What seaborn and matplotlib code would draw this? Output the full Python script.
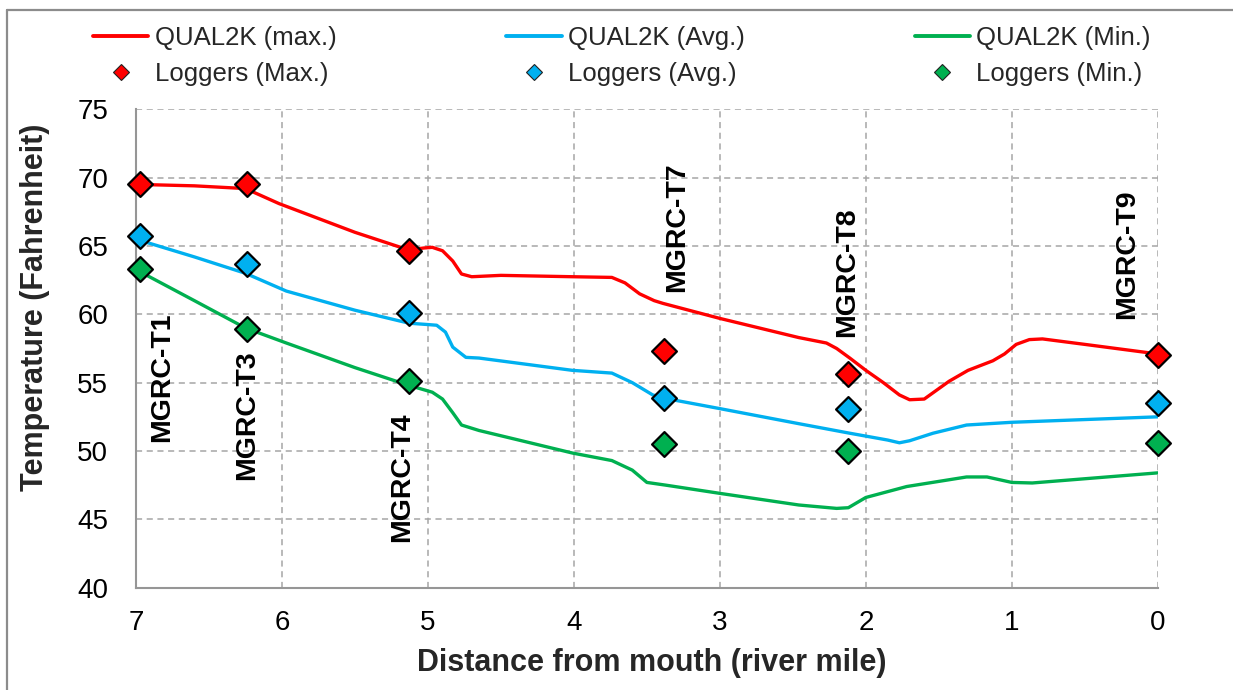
import matplotlib
matplotlib.use("Agg")
import matplotlib.pyplot as plt
from matplotlib.lines import Line2D
from matplotlib.ticker import MultipleLocator
import seaborn as sns

# QUAL2K simulated temperature profiles (river mile, deg F)
q_max_mile = [6.97, 6.60, 6.25, 6.02, 5.50, 5.13, 5.03, 4.97, 4.90, 4.83, 4.77, 4.70, 4.50,
              4.01, 3.74, 3.65, 3.55, 3.45, 3.39, 3.00, 2.46, 2.27, 2.20, 2.11, 2.00, 1.88,
              1.77, 1.70, 1.60, 1.43, 1.30, 1.13, 1.05, 0.97, 0.88, 0.79, 0.50, 0.00]
q_max_temp = [69.5, 69.4, 69.2, 68.1, 66.0, 64.7, 64.85, 64.9, 64.65, 63.9, 62.95, 62.75, 62.85,
              62.75, 62.7, 62.3, 61.5, 61.0, 60.8, 59.7, 58.3, 57.9, 57.5, 56.8, 55.9, 55.0,
              54.1, 53.75, 53.8, 55.1, 55.9, 56.6, 57.1, 57.8, 58.15, 58.2, 57.8, 57.1]

q_avg_mile = [6.97, 6.60, 6.25, 5.97, 5.50, 5.13, 5.00, 4.94, 4.88, 4.83, 4.74, 4.65, 4.01,
              3.74, 3.60, 3.46, 3.30, 3.00, 2.46, 2.11, 1.85, 1.77, 1.70, 1.54, 1.31, 1.00, 0.00]
q_avg_temp = [65.4, 64.2, 63.0, 61.7, 60.3, 59.35, 59.25, 59.2, 58.7, 57.6, 56.85, 56.8, 55.9,
              55.7, 55.0, 54.1, 53.7, 53.1, 52.0, 51.3, 50.8, 50.6, 50.75, 51.3, 51.9, 52.1, 52.5]

q_min_mile = [6.97, 6.60, 6.25, 5.97, 5.50, 5.13, 4.97, 4.90, 4.83, 4.77, 4.65, 4.30, 4.01,
              3.74, 3.60, 3.50, 3.37, 3.00, 2.46, 2.20, 2.12, 2.00, 1.72, 1.31, 1.17, 1.00,
              0.86, 0.00]
q_min_temp = [63.1, 61.0, 59.0, 57.9, 56.1, 54.8, 54.3, 53.8, 52.8, 51.9, 51.5, 50.6, 49.85,
              49.3, 48.6, 47.7, 47.5, 46.9, 46.05, 45.8, 45.85, 46.6, 47.4, 48.1, 48.1, 47.7,
              47.66, 48.4]

# Logger observations at monitoring stations
stations = ["MGRC-T1", "MGRC-T3", "MGRC-T4", "MGRC-T7", "MGRC-T8", "MGRC-T9"]
station_mile = [6.97, 6.24, 5.13, 3.38, 2.12, 0.0]
logger_max = [69.5, 69.5, 64.65, 57.35, 55.6, 57.0]
logger_avg = [65.7, 63.7, 60.1, 53.85, 53.1, 53.5]
logger_min = [63.3, 58.95, 55.1, 50.5, 50.0, 50.55]

# Anchor points for the station name labels (mile, deg F)
label_mile = [6.82, 6.24, 5.18, 3.29, 2.13, 0.21]
label_temp = [55.4, 52.6, 48.1, 66.4, 63.05, 64.4]

legend_labels = ["QUAL2K (max.)", "Loggers (Max.)", "QUAL2K (Avg.)",
                 "Loggers (Avg.)", "QUAL2K (Min.)", "Loggers (Min.)"]

RED, BLUE, GREEN = "#FF0000", "#00B0F0", "#00B050"
GRID = "#a6a6a6"
SPINE = "#969696"

sns.set_style("white")
plt.rcParams["font.family"] = ["Liberation Sans", "DejaVu Sans"]

fig = plt.figure(figsize=(12.33, 6.90), dpi=100)
ax = fig.add_axes([0.1103, 0.1483, 0.8287, 0.6933])

for miles, temps, col in [(q_max_mile, q_max_temp, RED),
                          (q_avg_mile, q_avg_temp, BLUE),
                          (q_min_mile, q_min_temp, GREEN)]:
    sns.lineplot(x=miles, y=temps, color=col, linewidth=2.4, estimator=None,
                 ax=ax, zorder=3)

for vals, col in [(logger_max, RED), (logger_avg, BLUE), (logger_min, GREEN)]:
    sns.scatterplot(x=station_mile, y=vals, marker="D", s=160, color=col,
                    edgecolor="black", linewidth=1.6, ax=ax, zorder=5, clip_on=False)

for name, m, t in zip(stations, label_mile, label_temp):
    ax.text(m, t, name, rotation=90, ha="center", va="center",
            fontsize=20.5, fontweight="bold", color="black", zorder=6)

ax.set_xlim(7, 0)
ax.set_ylim(40, 75)
ax.xaxis.set_major_locator(MultipleLocator(1))
ax.xaxis.set_minor_locator(MultipleLocator(0.25))
ax.yaxis.set_major_locator(MultipleLocator(5))
ax.yaxis.set_minor_locator(MultipleLocator(1))

ax.grid(True, which="major", color=GRID, linestyle=(0, (4, 3)), linewidth=1.1, zorder=0)
ax.set_axisbelow(True)
for side in ["top", "right"]:
    ax.spines[side].set_visible(False)
for side in ["left", "bottom"]:
    ax.spines[side].set_color(SPINE)
    ax.spines[side].set_linewidth(1.5)

ax.tick_params(axis="both", which="both", direction="in", color=SPINE, width=1.2,
               length=6, labelsize=20, labelcolor="black")
ax.tick_params(axis="y", which="major", pad=20)
ax.tick_params(axis="x", which="major", pad=16)

ax.set_xlabel("Distance from mouth (river mile)", fontsize=22, fontweight="bold")
ax.set_ylabel("Temperature (Fahrenheit)", fontsize=22, fontweight="bold")
ax.xaxis.set_label_coords(0.505, -0.157)
ax.xaxis.label.set_va("center")
ax.yaxis.set_label_coords(-0.099, 0.587)
ax.yaxis.label.set_va("center")

handles = []
for col in [RED, BLUE, GREEN]:
    handles.append(Line2D([], [], color=col, linewidth=2.8))
    handles.append(Line2D([], [], color=col, linestyle="none", marker="D",
                          markersize=8.5, markerfacecolor=col,
                          markeredgecolor="#222222", markeredgewidth=0.8))

fig.legend(handles, legend_labels, ncol=3, mode="expand", loc="upper left",
           bbox_to_anchor=(0.0754, 0.5, 0.858, 0.462), frameon=False,
           fontsize=18.5, handlelength=2.15, handletextpad=0.25,
           labelspacing=0.45, borderpad=0, borderaxespad=0)

# thin frame along the top and left edges of the chart area
fig.add_artist(Line2D([7 / 1233, 7 / 1233], [0, 1 - 10 / 690], transform=fig.transFigure,
                      color="#8c8c8c", linewidth=1.6))
fig.add_artist(Line2D([7 / 1233, 1], [1 - 10 / 690, 1 - 10 / 690], transform=fig.transFigure,
                      color="#8c8c8c", linewidth=1.6))

fig.savefig("out.png", dpi=100)
